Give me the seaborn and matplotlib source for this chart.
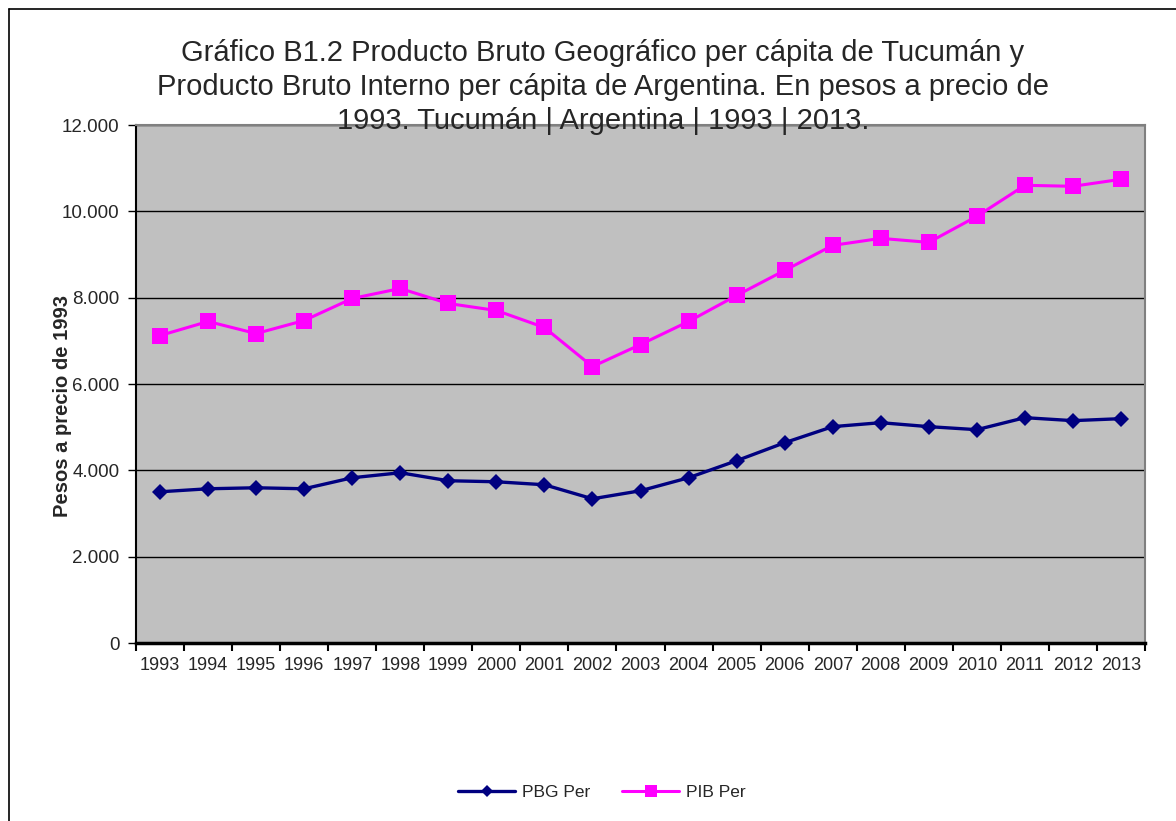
import matplotlib
matplotlib.use("Agg")
import matplotlib.pyplot as plt
from matplotlib.lines import Line2D
from matplotlib.ticker import FuncFormatter, FixedLocator
import seaborn as sns
import pandas as pd
import numpy as np

years = ["1993", "1994", "1995", "1996", "1997", "1998", "1999", "2000", "2001", "2002",
         "2003", "2004", "2005", "2006", "2007", "2008", "2009", "2010", "2011", "2012", "2013"]
pbg_per = [3503, 3573, 3596, 3573, 3828, 3944, 3759, 3735, 3666, 3341,
           3527, 3828, 4223, 4640, 5012, 5104, 5012, 4942, 5220, 5151, 5197]
pib_per = [7123, 7448, 7169, 7471, 7981, 8213, 7865, 7703, 7309, 6404,
           6914, 7448, 8051, 8631, 9211, 9374, 9281, 9884, 10603, 10580, 10742]
series_names = ["PBG Per", "PIB Per"]
title = ("Gráfico B1.2 Producto Bruto Geográfico per cápita de Tucumán y\n"
         "Producto Bruto Interno per cápita de Argentina. En pesos a precio de\n"
         "1993. Tucumán | Argentina | 1993 | 2013.")
ylabel = "Pesos a precio de 1993"

sns.set_style("white")
plt.rcParams['font.family'] = ['Liberation Sans', 'DejaVu Sans']

W, H = 1176, 821
fig = plt.figure(figsize=(W / 100, H / 100), dpi=100)
ax = fig.add_axes([136 / W, 1 - 643 / H, (1145 - 136) / W, (643 - 125) / H])
ax.set_facecolor("#C0C0C0")

pos = np.arange(len(years))
df = pd.DataFrame({"pos": pos, "PBG Per": pbg_per, "PIB Per": pib_per})

sns.lineplot(data=df, x="pos", y="PIB Per", ax=ax, color="#FF00FF", linewidth=2.2,
             marker="s", markersize=11, markeredgewidth=0, zorder=3)
sns.lineplot(data=df, x="pos", y="PBG Per", ax=ax, color="#000080", linewidth=2.4,
             marker="D", markersize=8, markeredgewidth=0, zorder=3)

ax.set_xlim(-0.5, len(years) - 0.5)
ax.set_ylim(0, 12000)
ax.set_yticks(np.arange(0, 12001, 2000))
ax.yaxis.set_major_formatter(FuncFormatter(lambda v, p: f"{int(v):,}".replace(",", ".")))
ax.grid(axis="y", color="black", linewidth=1.0)
ax.grid(axis="x", visible=False)
ax.set_axisbelow(True)

ax.xaxis.set_major_locator(FixedLocator(np.arange(-0.5, len(years), 1.0)))
ax.xaxis.set_major_formatter(FuncFormatter(lambda v, p: ""))
ax.xaxis.set_minor_locator(FixedLocator(pos))
ax.set_xticklabels(years, minor=True)
ax.tick_params(axis="x", which="major", direction="out", length=6, width=1.5, color="black", bottom=True)
ax.tick_params(axis="x", which="minor", length=0, labelsize=13, pad=10)
ax.tick_params(axis="y", direction="out", length=6, width=1, color="black", left=True, labelsize=13.5, pad=6)
ax.set_xlabel("")
ax.set_ylabel("")

for s in ["top", "right"]:
    ax.spines[s].set_color("#808080")
    ax.spines[s].set_linewidth(1.5)
ax.spines["left"].set_color("black")
ax.spines["left"].set_linewidth(1.5)
ax.spines["bottom"].set_color("black")
ax.spines["bottom"].set_linewidth(2.5)

fig.text(603 / W, 1 - 39 / H, title, ha="center", va="top", fontsize=21, linespacing=1.27, zorder=10)
fig.text(62 / W, 1 - 406 / H, ylabel, rotation=90, ha="center", va="center",
         fontsize=14.5, fontweight="bold", zorder=10)

handles = [
    Line2D([], [], color="#000080", linewidth=2.4, marker="D", markersize=6, markeredgewidth=0),
    Line2D([], [], color="#FF00FF", linewidth=2.2, marker="s", markersize=8, markeredgewidth=0),
]
fig.legend(handles, series_names, loc="center", bbox_to_anchor=(602 / W, 1 - 792 / H),
           ncol=2, frameon=False, fontsize=12.5, handlelength=3.3, columnspacing=1.8, handletextpad=0.4)

fig.add_artist(Line2D([9 / W, 1.0], [1 - 9 / H, 1 - 9 / H], color="black", linewidth=1.2))
fig.add_artist(Line2D([9 / W, 9 / W], [1 - 9 / H, 0.0], color="black", linewidth=1.2))

fig.savefig("out.png", dpi=100, facecolor="white")
